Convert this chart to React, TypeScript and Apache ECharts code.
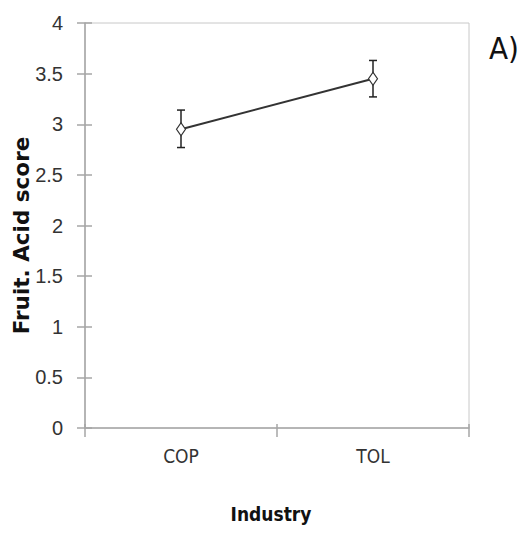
import React, { useEffect, useRef } from "react";
import * as echarts from "echarts";

const categories = ["COP", "TOL"];
const means = [2.95, 3.45];
const lower = [2.77, 3.27];
const upper = [3.14, 3.63];
const yMin = 0;
const yMax = 4;
const yInterval = 0.5;

export default function App() {
  const ref = useRef<HTMLDivElement>(null);
  useEffect(() => {
    document.body.style.margin = "0";
    const chart = echarts.init(ref.current!, undefined, { renderer: "svg" });
    const errData = categories.map((_, i) => [i, lower[i], upper[i]]);
    const axisGray = "#a6a6a6";
    const narrow = "'Liberation Sans Narrow', 'DejaVu Sans Condensed', sans-serif";
    chart.setOption({
      animation: false,
      backgroundColor: "#ffffff",
      grid: {
        left: 85,
        right: 49,
        top: 23,
        bottom: 106,
        containLabel: false,
        outerBoundsMode: "none",
        show: true,
        borderColor: "#c8c8c8",
        borderWidth: 1,
      },
      xAxis: [
        {
          type: "category",
          data: categories,
          boundaryGap: true,
          axisLine: { show: true, lineStyle: { color: axisGray, width: 1.5 } },
          axisTick: { show: true, length: 9, lineStyle: { color: axisGray, width: 1.5 } },
          axisLabel: {
            color: "#333",
            fontFamily: narrow,
            fontSize: 19,
            margin: 18,
          },
          name: "Industry",
          nameLocation: "middle",
          nameGap: 76,
          nameMoveOverlap: false,
          nameTextStyle: {
            color: "#111",
            fontFamily: narrow,
            fontWeight: "bold",
            fontSize: 19,
            padding: [0, 12, 0, 0],
          },
          splitLine: { show: false },
        },
        {
          type: "category",
          data: categories,
          position: "bottom",
          boundaryGap: true,
          axisLine: { show: false },
          axisTick: { show: true, inside: true, length: 4, lineStyle: { color: axisGray, width: 1.5 } },
          axisLabel: { show: false },
          splitLine: { show: false },
        },
      ],
      yAxis: [
        {
          type: "value",
          min: yMin,
          max: yMax,
          interval: yInterval,
          axisLine: { show: true, lineStyle: { color: axisGray, width: 1.5 } },
          axisTick: { show: true, length: 8, lineStyle: { color: axisGray, width: 1.5 } },
          axisLabel: {
            color: "#333",
            fontFamily: "'Liberation Sans', Arial, sans-serif",
            fontSize: 20,
            margin: 22,
          },
          splitLine: { show: false },
          name: "Fruit. Acid score",
          nameLocation: "middle",
          nameGap: 53,
          nameMoveOverlap: false,
          nameTextStyle: {
            color: "#111",
            fontFamily: "'DejaVu Sans', sans-serif",
            fontWeight: "bold",
            fontSize: 21.5,
            padding: [0, 20, 0, 0],
          },
        },
        {
          type: "value",
          min: yMin,
          max: yMax,
          interval: yInterval,
          position: "left",
          axisLine: { show: false },
          axisTick: { show: true, inside: true, length: 7, lineStyle: { color: axisGray, width: 1.5 } },
          axisLabel: { show: false },
          splitLine: { show: false },
        },
      ],
      graphic: [
        {
          type: "text",
          left: 489,
          top: 32,
          style: {
            text: "A)",
            fill: "#111",
            font: "31px " + narrow,
          },
        },
      ],
      series: [
        {
          type: "custom",
          xAxisIndex: 0,
          yAxisIndex: 0,
          z: 1,
          data: errData,
          renderItem: (params: any, api: any) => {
            const x = api.value(0);
            const lo = api.coord([x, api.value(1)]);
            const hi = api.coord([x, api.value(2)]);
            const cap = 4;
            const style = { stroke: "#222", lineWidth: 1.5 };
            return {
              type: "group",
              children: [
                { type: "line", shape: { x1: lo[0], y1: lo[1], x2: hi[0], y2: hi[1] }, style },
                { type: "line", shape: { x1: hi[0] - cap, y1: hi[1], x2: hi[0] + cap, y2: hi[1] }, style },
                { type: "line", shape: { x1: lo[0] - cap, y1: lo[1], x2: lo[0] + cap, y2: lo[1] }, style },
              ],
            };
          },
        },
        {
          type: "line",
          xAxisIndex: 0,
          yAxisIndex: 0,
          z: 3,
          data: means,
          symbol: "diamond",
          symbolSize: [9, 13],
          showAllSymbol: true,
          lineStyle: { color: "#333", width: 2 },
          itemStyle: { color: "#ffffff", borderColor: "#333", borderWidth: 1.2 },
          emphasis: { disabled: true },
        },
      ],
    });
    return () => chart.dispose();
  }, []);
  return <div ref={ref} style={{ width: 518, height: 534 }} />;
}
